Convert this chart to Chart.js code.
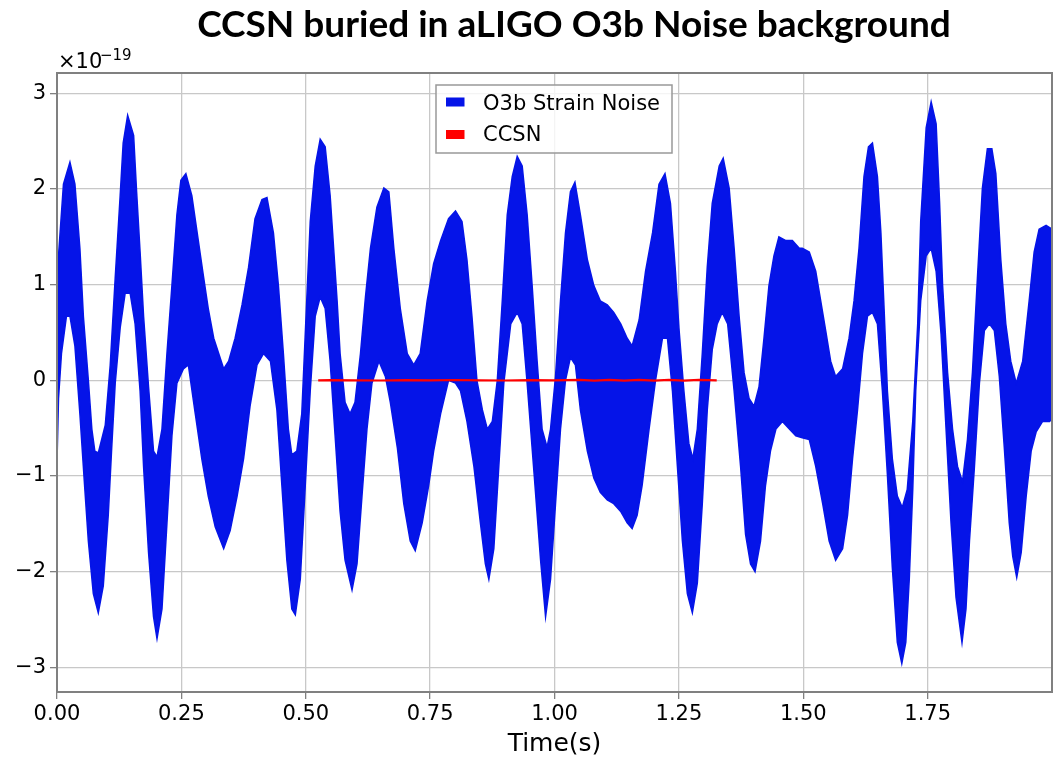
<!DOCTYPE html>
<html lang="en">
<head>
<meta charset="UTF-8">
<title>CCSN buried in aLIGO O3b Noise background</title>
<script src="https://cdn.jsdelivr.net/npm/chart.js"></script>
<style>
  html, body { margin: 0; padding: 0; background: #fff; }
</style>
</head>
<body>
<canvas id="strainChart" width="1054" height="759"></canvas>
<script>
// values in units of 1e-19
// the noise is a dense oscillation, kept as its upper and lower envelope
const upperT = [0, 0.003, 0.013, 0.026, 0.036, 0.046, 0.053, 0.063, 0.070, 0.076, 0.083, 0.097, 0.107, 0.117, 0.127, 0.133, 0.142, 0.154, 0.160, 0.167, 0.174, 0.184, 0.194, 0.201, 0.211, 0.221, 0.231, 0.241, 0.249, 0.259, 0.271, 0.284, 0.294, 0.304, 0.315, 0.325, 0.335, 0.345, 0.358, 0.372, 0.385, 0.398, 0.412, 0.422, 0.435, 0.445, 0.455, 0.465, 0.472, 0.482, 0.492, 0.500, 0.509, 0.519, 0.529, 0.539, 0.549, 0.556, 0.563, 0.569, 0.579, 0.589, 0.599, 0.610, 0.620, 0.630, 0.643, 0.657, 0.667, 0.677, 0.690, 0.704, 0.717, 0.730, 0.744, 0.757, 0.771, 0.787, 0.801, 0.814, 0.824, 0.834, 0.844, 0.855, 0.865, 0.875, 0.885, 0.895, 0.905, 0.915, 0.925, 0.935, 0.945, 0.955, 0.965, 0.975, 0.985, 0.992, 1.002, 1.012, 1.022, 1.032, 1.041, 1.052, 1.066, 1.079, 1.092, 1.106, 1.119, 1.133, 1.146, 1.156, 1.170, 1.183, 1.197, 1.210, 1.222, 1.233, 1.243, 1.250, 1.260, 1.270, 1.278, 1.287, 1.297, 1.307, 1.317, 1.331, 1.339, 1.351, 1.361, 1.371, 1.381, 1.391, 1.401, 1.411, 1.421, 1.431, 1.441, 1.451, 1.465, 1.478, 1.492, 1.498, 1.512, 1.525, 1.535, 1.545, 1.555, 1.565, 1.579, 1.592, 1.602, 1.612, 1.622, 1.631, 1.639, 1.649, 1.656, 1.663, 1.669, 1.679, 1.689, 1.699, 1.709, 1.720, 1.730, 1.736, 1.747, 1.757, 1.767, 1.774, 1.780, 1.790, 1.800, 1.810, 1.820, 1.830, 1.840, 1.850, 1.860, 1.870, 1.879, 1.887, 1.897, 1.907, 1.917, 1.928, 1.941, 1.954, 1.964, 1.974, 1.988, 2.000];
const upperV = [0.30, 1.30, 2.05, 2.28, 2.05, 1.38, 0.67, 0.00, -0.51, -0.74, -0.76, -0.47, 0.16, 1.07, 1.93, 2.48, 2.77, 2.56, 1.97, 1.34, 0.67, -0.07, -0.74, -0.80, -0.51, 0.28, 0.99, 1.73, 2.09, 2.16, 1.93, 1.46, 1.10, 0.75, 0.44, 0.28, 0.12, 0.20, 0.44, 0.79, 1.18, 1.69, 1.89, 1.91, 1.54, 0.99, 0.28, -0.51, -0.78, -0.74, -0.35, 0.60, 1.66, 2.24, 2.52, 2.44, 1.93, 1.38, 0.83, 0.28, -0.23, -0.35, -0.23, 0.28, 0.87, 1.38, 1.81, 2.01, 1.97, 1.38, 0.75, 0.28, 0.16, 0.28, 0.83, 1.22, 1.46, 1.69, 1.77, 1.66, 1.26, 0.67, 0.00, -0.31, -0.51, -0.43, 0.00, 0.83, 1.73, 2.13, 2.34, 2.24, 1.73, 0.99, 0.20, -0.51, -0.70, -0.51, 0.04, 0.83, 1.54, 1.97, 2.07, 1.73, 1.26, 0.99, 0.83, 0.79, 0.71, 0.59, 0.44, 0.36, 0.63, 1.14, 1.54, 2.05, 2.16, 1.85, 1.14, 0.55, -0.11, -0.66, -0.82, -0.51, 0.28, 1.18, 1.85, 2.24, 2.32, 2.01, 1.38, 0.67, 0.08, -0.19, -0.27, -0.07, 0.44, 0.99, 1.30, 1.50, 1.46, 1.46, 1.38, 1.38, 1.34, 1.14, 0.83, 0.52, 0.20, 0.04, 0.12, 0.44, 0.83, 1.38, 2.13, 2.44, 2.48, 2.13, 1.54, 0.67, -0.11, -0.82, -1.21, -1.33, -1.14, -0.43, 0.59, 1.66, 2.64, 2.91, 2.68, 1.85, 0.99, 0.08, -0.51, -0.90, -1.06, -0.62, 0.08, 1.07, 2.01, 2.42, 2.42, 2.16, 1.26, 0.59, 0.20, -0.03, 0.20, 0.83, 1.34, 1.58, 1.62, 1.58];

const lowerT = [0, 0.003, 0.009, 0.019, 0.026, 0.036, 0.046, 0.056, 0.063, 0.073, 0.083, 0.093, 0.103, 0.110, 0.117, 0.127, 0.137, 0.147, 0.157, 0.167, 0.174, 0.184, 0.194, 0.201, 0.211, 0.221, 0.231, 0.241, 0.254, 0.264, 0.278, 0.291, 0.304, 0.318, 0.335, 0.348, 0.362, 0.375, 0.388, 0.402, 0.415, 0.429, 0.442, 0.452, 0.462, 0.472, 0.479, 0.489, 0.499, 0.509, 0.519, 0.529, 0.539, 0.549, 0.559, 0.569, 0.579, 0.593, 0.603, 0.613, 0.623, 0.633, 0.647, 0.660, 0.670, 0.684, 0.697, 0.710, 0.720, 0.734, 0.747, 0.757, 0.771, 0.787, 0.801, 0.811, 0.824, 0.838, 0.851, 0.861, 0.868, 0.878, 0.888, 0.898, 0.912, 0.925, 0.935, 0.945, 0.959, 0.972, 0.982, 0.992, 1.002, 1.012, 1.022, 1.032, 1.042, 1.052, 1.066, 1.079, 1.092, 1.106, 1.119, 1.133, 1.146, 1.156, 1.166, 1.176, 1.190, 1.203, 1.217, 1.227, 1.237, 1.247, 1.257, 1.267, 1.277, 1.287, 1.297, 1.307, 1.317, 1.327, 1.337, 1.348, 1.361, 1.374, 1.384, 1.394, 1.403, 1.414, 1.424, 1.434, 1.445, 1.458, 1.472, 1.485, 1.498, 1.512, 1.525, 1.539, 1.552, 1.565, 1.579, 1.589, 1.599, 1.609, 1.619, 1.629, 1.639, 1.649, 1.659, 1.669, 1.679, 1.689, 1.698, 1.706, 1.713, 1.720, 1.726, 1.736, 1.747, 1.757, 1.767, 1.777, 1.787, 1.797, 1.807, 1.819, 1.827, 1.834, 1.844, 1.854, 1.864, 1.874, 1.884, 1.894, 1.904, 1.914, 1.921, 1.929, 1.938, 1.948, 1.958, 1.968, 1.981, 1.995, 2.000];
const lowerV = [-0.85, -0.19, 0.28, 0.67, 0.67, 0.36, -0.35, -1.14, -1.68, -2.23, -2.43, -2.15, -1.41, -0.70, -0.03, 0.55, 0.91, 0.91, 0.59, -0.11, -0.90, -1.80, -2.47, -2.70, -2.39, -1.49, -0.58, -0.03, 0.12, 0.16, -0.35, -0.82, -1.21, -1.53, -1.76, -1.57, -1.21, -0.82, -0.27, 0.16, 0.28, 0.20, -0.31, -1.10, -1.88, -2.39, -2.45, -2.08, -1.10, -0.11, 0.67, 0.87, 0.75, 0.20, -0.58, -1.37, -1.88, -2.19, -1.92, -1.21, -0.51, -0.03, 0.20, 0.04, -0.23, -0.70, -1.29, -1.68, -1.78, -1.49, -1.10, -0.74, -0.35, 0.00, -0.03, -0.11, -0.43, -0.90, -1.49, -1.92, -2.08, -1.76, -0.90, -0.03, 0.59, 0.71, 0.59, -0.03, -0.98, -1.88, -2.47, -2.08, -1.29, -0.51, 0.00, 0.24, 0.16, -0.31, -0.74, -1.02, -1.17, -1.25, -1.29, -1.37, -1.49, -1.55, -1.41, -1.10, -0.51, 0.00, 0.44, 0.44, -0.11, -0.90, -1.68, -2.23, -2.43, -2.12, -1.29, -0.31, 0.32, 0.59, 0.71, 0.59, -0.11, -0.90, -1.61, -1.92, -2.00, -1.68, -1.10, -0.74, -0.51, -0.43, -0.51, -0.58, -0.60, -0.62, -0.90, -1.29, -1.68, -1.88, -1.76, -1.41, -0.82, -0.31, 0.28, 0.67, 0.71, 0.59, -0.11, -0.98, -1.96, -2.74, -2.96, -2.74, -2.08, -1.14, -0.11, 0.83, 1.30, 1.38, 1.14, 0.48, -0.51, -1.49, -2.27, -2.74, -2.39, -1.68, -0.90, -0.03, 0.52, 0.59, 0.52, 0.04, -0.70, -1.49, -1.84, -2.06, -1.80, -1.21, -0.74, -0.54, -0.43, -0.43, -0.40];

// CCSN signal, sits at ~0 on this scale
const ccsnT = [0.525, 0.55, 0.60, 0.65, 0.70, 0.75, 0.80, 0.85, 0.90, 0.95, 1.00, 1.05, 1.08, 1.11, 1.14, 1.17, 1.20, 1.23, 1.26, 1.29, 1.326];
const ccsnV = [0, 0.002, 0, -0.002, 0.002, 0, 0.003, 0, -0.002, 0.002, 0, 0.004, -0.003, 0.005, -0.003, 0.005, -0.004, 0.004, -0.004, 0.005, 0];

const xTicks = [0, 0.25, 0.5, 0.75, 1.0, 1.25, 1.5, 1.75];
const yTicks = [-3, -2, -1, 0, 1, 2, 3];

const noiseColor = '#0514e8';
const ccsnColor = '#ff0000';
const tickFont = { family: 'DejaVu Sans', size: 21 };

// band outline: along the top, then back along the bottom
const bandPoints = upperT.map((t, i) => ({ x: t, y: upperV[i] }))
    .concat(lowerT.map((t, i) => ({ x: t, y: lowerV[i] })).reverse());
const ccsnPoints = ccsnT.map((t, i) => ({ x: t, y: ccsnV[i] }));

const overlay = {
    id: 'overlay',
    afterDatasetsDraw(chart) {
        const { ctx, chartArea: a } = chart;
        ctx.save();
        ctx.strokeStyle = '#808080';
        ctx.lineWidth = 2;
        ctx.strokeRect(a.left, a.top, a.right - a.left, a.bottom - a.top);
        ctx.restore();
    },
    afterDraw(chart) {
        const ctx = chart.ctx;
        ctx.save();

        // title
        ctx.fillStyle = '#000';
        ctx.font = 'bold 37px Lato';
        ctx.textAlign = 'center';
        ctx.textBaseline = 'alphabetic';
        ctx.fillText('CCSN buried in aLIGO O3b Noise background', 574, 37);

        // offset text of the y axis
        ctx.textAlign = 'left';
        ctx.font = '21px "DejaVu Sans"';
        ctx.fillText('\u00d710', 58, 68);
        ctx.font = '15px "DejaVu Sans"';
        ctx.fillText('\u221219', 100, 60);

        // legend
        ctx.fillStyle = 'rgba(255,255,255,0.8)';
        ctx.fillRect(436, 85, 236, 68);
        ctx.strokeStyle = '#999';
        ctx.lineWidth = 1.5;
        ctx.strokeRect(436, 85, 236, 68);
        ctx.fillStyle = noiseColor;
        ctx.fillRect(446, 97.5, 18.5, 9);
        ctx.fillStyle = ccsnColor;
        ctx.fillRect(446, 130, 18.5, 9);
        ctx.fillStyle = '#000';
        ctx.font = '21px "DejaVu Sans"';
        ctx.fillText('O3b Strain Noise', 483, 110);
        ctx.fillText('CCSN', 483, 141);

        ctx.restore();
    }
};

new Chart(document.getElementById('strainChart'), {
    type: 'line',
    data: {
        datasets: [{
            label: 'O3b Strain Noise',
            data: bandPoints,
            borderColor: noiseColor,
            backgroundColor: noiseColor,
            borderWidth: 1.5,
            pointRadius: 0,
            tension: 0,
            fill: 'shape',
            order: 1
        }, {
            label: 'CCSN',
            data: ccsnPoints,
            borderColor: ccsnColor,
            borderWidth: 2.2,
            pointRadius: 0,
            tension: 0,
            fill: false,
            order: 0
        }]
    },
    options: {
        responsive: false,
        animation: false,
        layout: { padding: { top: 73, right: 2, bottom: 0, left: 0 } },
        plugins: {
            legend: { display: false },
            tooltip: { enabled: false }
        },
        scales: {
            x: {
                type: 'linear',
                min: 0,
                max: 1.9999,
                afterBuildTicks: s => { s.ticks = xTicks.map(v => ({ value: v })); },
                afterFit: s => { s.height = 67; },
                ticks: {
                    callback: v => v.toFixed(2),
                    font: tickFont,
                    color: '#000',
                    padding: 3,
                    maxRotation: 0,
                    autoSkip: false
                },
                grid: { color: '#c8c8c8', lineWidth: 1.3, tickLength: 7, tickColor: '#808080' },
                border: { display: false },
                title: {
                    display: true,
                    text: 'Time(s)',
                    font: { family: 'DejaVu Sans', size: 25 },
                    color: '#000',
                    padding: { top: 0, bottom: 0 }
                }
            },
            y: {
                type: 'linear',
                min: -3.258,
                max: 3.212,
                afterBuildTicks: s => { s.ticks = yTicks.map(v => ({ value: v })); },
                afterFit: s => { s.width = 57; },
                ticks: {
                    callback: v => (v < 0 ? '\u2212' + Math.abs(v) : String(v)),
                    font: tickFont,
                    color: '#000',
                    padding: 4,
                    autoSkip: false
                },
                grid: { color: '#c8c8c8', lineWidth: 1.3, tickLength: 7, tickColor: '#808080' },
                border: { display: false }
            }
        }
    },
    plugins: [overlay]
});
</script>
</body>
</html>
